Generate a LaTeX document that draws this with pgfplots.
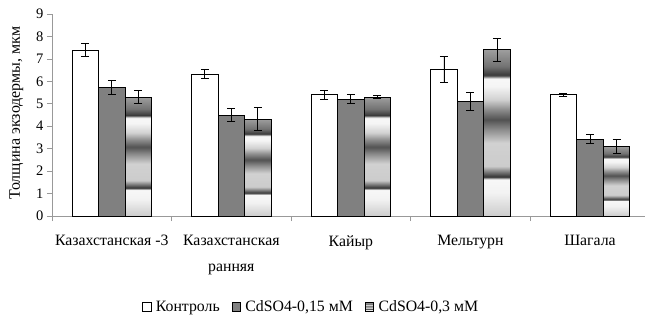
\documentclass[border=0pt]{standalone}
\usepackage{fontspec}
\setmainfont{Liberation Serif}
\usepackage{pgfplots}
\pgfplotsset{compat=1.18}
\pgfdeclareverticalshading{bands}{100bp}{%
color(0bp)=(black!20);
color(25bp)=(black!20);
color(32bp)=(black!5);
color(36bp)=(black!3);
color(36.8bp)=(black!80);
color(40bp)=(black!20);
color(47bp)=(black!18);
color(51bp)=(black!45);
color(54bp)=(black!68);
color(57bp)=(black!45);
color(60bp)=(black!18);
color(64bp)=(black!4);
color(66.3bp)=(black!3);
color(67.3bp)=(black!78);
color(70bp)=(black!55);
color(75bp)=(black!38);
color(100bp)=(black!38)}
\pgfplotsset{third/.style={draw=black, shade, shading=bands, line width=0.8pt, bar shift=0.222}}
\begin{document}
\begin{tikzpicture}
\begin{axis}[
  scale only axis, width=593bp, height=202bp,
  xmin=-0.5, xmax=4.46, ymin=0, ymax=9,
  axis x line*=bottom, axis y line*=left,
  axis line style={black!40, line width=0.8pt},
  ybar=0pt, bar width=0.222,
  xtick={0,...,4},
  xticklabels={{Казахстанская -3},{Казахстанская\\ранняя},{Кайыр},{Мельтурн},{Шагала}},
  xticklabel style={align=center, font=\fontsize{15.8bp}{25.5bp}\selectfont, yshift=-11bp},
  minor xtick={-0.5,0.5,1.5,2.5,3.5,4.5},
  major x tick style={draw=none},
  ytick={0,...,9},
  yticklabel style={font=\fontsize{14.5bp}{15bp}\selectfont},
  tick align=outside, major tick length=5bp, minor tick length=5bp,
  every tick/.style={black!40, line width=0.7pt},
  /pgf/number format/assume math mode=true,
  ylabel={Толщина экзодермы, мкм},
  ylabel style={font=\fontsize{16bp}{18bp}\selectfont, at={(axis description cs:-0.060,0.51)}, anchor=center},
  legend columns=3,
  legend style={at={(axis description cs:0.437,-0.45)}, anchor=center, draw=none, fill=none,
     font=\fontsize{15.8bp}{18bp}\selectfont, inner sep=0pt,
     /tikz/every even column/.append style={column sep=10bp}},
  legend image code/.code={\draw[#1,line width=0.6pt] (0bp,-4.2bp) rectangle (8.4bp,4.2bp); \path (11bp,0bp);},
  error bars/y dir=both, error bars/y explicit,
  error bars/error bar style={black, line width=0.8pt},
  error bars/error mark options={rotate=90, mark size=4bp, black, line width=0.8pt},
]
\addplot[draw=black, fill=white, line width=0.8pt, bar shift=-0.222] coordinates {
 (0,7.4) +- (0,0.3)
 (1,6.33) +- (0,0.2)
 (2,5.4) +- (0,0.2)
 (3,6.52) +- (0,0.58)
 (4,5.4) +- (0,0.07)
};
\addplot[draw=black, fill=black!50, line width=0.8pt, bar shift=0] coordinates {
 (0,5.73) +- (0,0.3)
 (1,4.5) +- (0,0.3)
 (2,5.2) +- (0,0.2)
 (3,5.1) +- (0,0.4)
 (4,3.42) +- (0,0.2)
};
\addplot[third] coordinates {(0,5.3) +- (0,0.3)};
\addplot[third, forget plot] coordinates {(1,4.32) +- (0,0.5)};
\addplot[third, forget plot] coordinates {(2,5.3) +- (0,0.07)};
\addplot[third, forget plot] coordinates {(3,7.41) +- (0,0.52)};
\addplot[third, forget plot] coordinates {(4,3.1) +- (0,0.33)};
\legend{Контроль, {CdSO4-0,15 мМ}, {CdSO4-0,3 мМ}}
\end{axis}
\pgfresetboundingbox
\path[use as bounding box] ([shift={(-52bp,-109bp)}]current axis.south west) rectangle ++(645bp,325bp);
\end{tikzpicture}
\end{document}
